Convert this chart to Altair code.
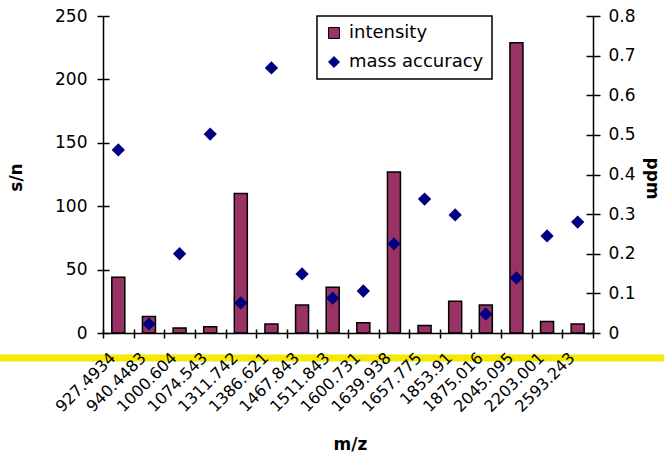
import altair as alt
import pandas as pd

# ---- data ----
mz = ["927.4934", "940.4483", "1000.604", "1074.543", "1311.742", "1386.621",
      "1467.843", "1511.843", "1600.731", "1639.938", "1657.775", "1853.91",
      "1875.016", "2045.095", "2203.001", "2593.243"]
intensity = [44, 13, 4, 5, 110, 7, 22, 36, 8, 127, 6, 25, 22, 229, 9, 7]
mass_accuracy = [0.462, 0.023, 0.200, 0.502, 0.076, 0.669, 0.149, 0.088,
                 0.106, 0.225, 0.338, 0.298, 0.048, 0.139, 0.245, 0.280]
series_names = ["intensity", "mass accuracy"]
left_ticks = [0, 50, 100, 150, 200, 250]
right_ticks = [0, 0.1, 0.2, 0.3, 0.4, 0.5, 0.6, 0.7, 0.8]

FONT = "DejaVu Sans"

df = pd.DataFrame({"mz": mz, "intensity": intensity, "ppm": mass_accuracy})

x_scale = alt.Scale(paddingInner=0, paddingOuter=0)
x_bottom = alt.X(
    "mz:N", sort=None, scale=x_scale,
    axis=alt.Axis(
        title="m/z", labelAngle=-45, labelAlign="right", labelBaseline="middle",
        tickBand="extent", tickSize=5, labelPadding=17, labelOffset=-6,
        labelFontSize=16, titleX=247, titleY=111, titleBaseline="middle", zindex=1,
    ),
)
# inner half of the crossing x ticks
x_top_inner = alt.X(
    "mz:N", sort=None, scale=x_scale,
    axis=alt.Axis(orient="top", offset=-317, labels=False, domain=False,
                  title=None, tickBand="extent", tickSize=4),
)
x_none = alt.X("mz:N", sort=None, scale=x_scale, axis=None)

y_left_scale = alt.Scale(domain=[0, 250], nice=False)
y_right_scale = alt.Scale(domain=[0, 0.8], nice=False)

color_scale = alt.Scale(domain=series_names, range=["#993366", "#000080"])
legend = alt.Legend(
    title=None, orient="none", legendX=214, legendY=0,
    fillColor="white", strokeColor="black",
    padding=8, labelFontSize=18, labelFont=FONT, labelColor="black",
    symbolSize=120, rowPadding=11, labelOffset=6, symbolStrokeWidth=1,
)

yellow = alt.Chart(pd.DataFrame({"k": [0]})).mark_rule(
    color="#f2ea00", strokeWidth=7
).encode(x=alt.value(-103), x2=alt.value(561), y=alt.value(342))

bars = alt.Chart(df).transform_calculate(series="'intensity'").mark_bar(
    size=13, stroke="black", strokeWidth=1.5
).encode(
    x=x_bottom,
    y=alt.Y("intensity:Q", scale=y_left_scale,
            axis=alt.Axis(orient="left", values=left_ticks, title="s/n",
                          tickSize=6, labelPadding=10, labelFontSize=17,
                          titleX=-87, titleY=161, titleAngle=-90,
                          titleBaseline="middle")),
    color=alt.Color("series:N", scale=color_scale, legend=legend),
)

points = alt.Chart(df).transform_calculate(series="'mass accuracy'").mark_point(
    filled=True, size=110, opacity=1
).encode(
    x=x_top_inner,
    y=alt.Y("ppm:Q", scale=y_right_scale,
            axis=alt.Axis(orient="right", values=right_ticks, title="ppm",
                          format="~g", tickSize=7, labelPadding=8,
                          labelFontSize=17, titleX=58, titleY=162,
                          titleAngle=90, titleBaseline="middle")),
    color=alt.Color("series:N", scale=color_scale, legend=legend),
    shape=alt.Shape("series:N",
                    scale=alt.Scale(domain=series_names, range=["square", "diamond"]),
                    legend=legend),
    stroke=alt.Stroke("series:N",
                      scale=alt.Scale(domain=series_names, range=["#000000", "#000080"]),
                      legend=legend),
)

# inner halves of the crossing y ticks (invisible marks, axis only)
left_inner = alt.Chart(df).mark_point(opacity=0).encode(
    x=x_none,
    y=alt.Y("intensity:Q", scale=y_left_scale,
            axis=alt.Axis(orient="right", offset=-490, values=left_ticks,
                          labels=False, domain=False, title=None, tickSize=6)),
)
right_inner = alt.Chart(df).mark_point(opacity=0).encode(
    x=x_none,
    y=alt.Y("ppm:Q", scale=y_right_scale,
            axis=alt.Axis(orient="left", offset=-490, values=right_ticks,
                          labels=False, domain=False, title=None, tickSize=7)),
)

chart = alt.layer(yellow, bars, points, left_inner, right_inner).resolve_scale(
    y="independent"
).resolve_axis(x="independent").properties(
    width=490, height=317,
    autosize=alt.AutoSizeParams(type="none"),
    padding={"left": 103, "top": 16, "right": 71, "bottom": 123},
    background="white",
).configure_view(stroke=None).configure_axis(
    grid=False, domainColor="black", tickColor="black", labelColor="black",
    titleColor="black", labelFont=FONT, titleFont=FONT, titleFontSize=17,
    titleFontWeight="bold", domainWidth=1.5, tickWidth=1.5,
).configure_legend(strokeWidth=1.5, cornerRadius=0)

chart.save("out.html", embed_options={"renderer": "svg", "actions": False})
